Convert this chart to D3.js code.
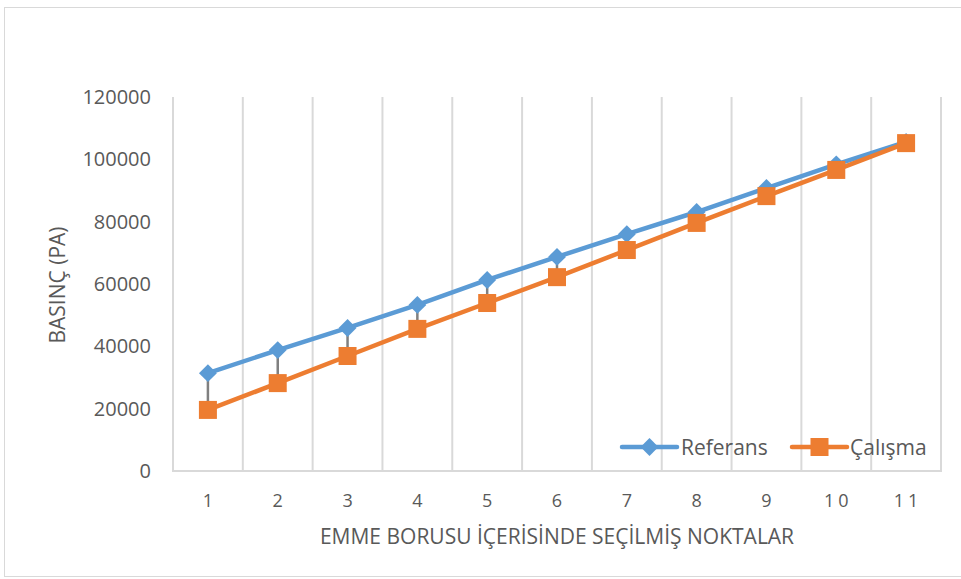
<!DOCTYPE html>
<html>
<head>
<meta charset="utf-8">
<script src="https://cdn.jsdelivr.net/npm/d3@7"></script>
<style>
  html, body { margin: 0; padding: 0; background: #fff; }
  svg { display: block; }
  text { font-family: "Open Sans", "Noto Sans", sans-serif; fill: #595959; }
</style>
</head>
<body>
<svg id="chart" width="961" height="579"></svg>
<script>
// Measurement points along the suction pipe
const categories = ["1", "2", "3", "4", "5", "6", "7", "8", "9", "10", "11"];
// Pressure (Pa) at each point
const referans = [31400, 38800, 45900, 53300, 61300, 68700, 76000, 83100, 90800, 98400, 105600];
const calisma  = [19600, 28200, 36900, 45600, 53900, 62200, 70900, 79600, 88200, 96600, 105200];
const yTicks = [0, 20000, 40000, 60000, 80000, 100000, 120000];
const seriesNames = ["Referans", "Çalışma"];
const xTitle = "EMME BORUSU İÇERİSİNDE SEÇİLMİŞ NOKTALAR";
const yTitle = "BASINÇ (PA)";

const blue = "#5b9bd5", orange = "#ed7d31", grid = "#d9d9d9";

const svg = d3.select("#chart");
const plot = { left: 173, right: 941, top: 97, bottom: 471 };

// Outer chart frame
svg.append("rect")
  .attr("x", 4.5).attr("y", 7.5).attr("width", 960).attr("height", 569)
  .attr("fill", "#fff").attr("stroke", grid).attr("stroke-width", 1);

const x = d3.scaleBand().domain(categories).range([plot.left, plot.right]).padding(0);
const y = d3.scaleLinear().domain([0, 120000]).range([plot.bottom, plot.top]);

// Vertical gridlines at category boundaries
const bounds = categories.map(c => x(c)).concat([plot.right]);
svg.append("g").selectAll("line").data(bounds).join("line")
  .attr("x1", d => d).attr("x2", d => d)
  .attr("y1", plot.top).attr("y2", plot.bottom)
  .attr("stroke", grid).attr("stroke-width", 2);

// X axis line
svg.append("line")
  .attr("x1", plot.left - 1).attr("x2", plot.right + 1)
  .attr("y1", plot.bottom).attr("y2", plot.bottom)
  .attr("stroke", grid).attr("stroke-width", 2);

// X tick labels
svg.append("g").selectAll("text").data(categories).join("text")
  .attr("x", d => x(d) + x.bandwidth() / 2 + (d.length > 1 ? 2 : 0))
  .attr("y", 507)
  .attr("text-anchor", "middle")
  .attr("font-size", 18)
  .attr("letter-spacing", d => d.length > 1 ? "4px" : "0px")
  .text(d => d);

// Y tick labels
svg.append("g").selectAll("text").data(yTicks).join("text")
  .attr("x", 151)
  .attr("y", d => y(d) + 7)
  .attr("text-anchor", "end")
  .attr("font-size", 20)
  .text(d => d);

// Axis titles
svg.append("text")
  .attr("x", 557).attr("y", 544)
  .attr("text-anchor", "middle")
  .attr("font-size", 21)
  .text(xTitle);

svg.append("text")
  .attr("transform", "translate(65,285) rotate(-90)")
  .attr("text-anchor", "middle")
  .attr("font-size", 21)
  .text(yTitle);

const cx = c => x(c) + x.bandwidth() / 2;

// Drop lines between the two series
svg.append("g").selectAll("line").data(categories).join("line")
  .attr("x1", cx).attr("x2", cx)
  .attr("y1", (d, i) => y(referans[i]))
  .attr("y2", (d, i) => y(calisma[i]))
  .attr("stroke", "#808080").attr("stroke-width", 2.5);

const line = d3.line().x((d, i) => cx(categories[i])).y(d => y(d));

function drawSeries(values, color, marker) {
  svg.append("path").datum(values)
    .attr("d", line)
    .attr("fill", "none").attr("stroke", color)
    .attr("stroke-width", 4.5).attr("stroke-linejoin", "round");
  const g = svg.append("g");
  values.forEach((v, i) => marker(g, cx(categories[i]), y(v), color));
}

const diamond = (g, px, py, color) => g.append("path")
  .attr("d", d3.symbol(d3.symbolSquare, 160)())
  .attr("transform", `translate(${px},${py}) rotate(45)`)
  .attr("fill", color);
const square = (g, px, py, color) => g.append("rect")
  .attr("x", px - 9).attr("y", py - 9).attr("width", 18).attr("height", 18)
  .attr("fill", color);

drawSeries(referans, blue, diamond);
drawSeries(calisma, orange, square);

// Legend
const legend = [
  { name: seriesNames[0], color: blue, marker: diamond, x0: 622, tx: 681 },
  { name: seriesNames[1], color: orange, marker: square, x0: 792, tx: 850 }
];
legend.forEach(l => {
  svg.append("line").attr("x1", l.x0).attr("x2", l.x0 + 55)
    .attr("y1", 447).attr("y2", 447)
    .attr("stroke", l.color).attr("stroke-width", 4.5).attr("stroke-linecap", "round");
  l.marker(svg, l.x0 + 27.5, 447, l.color);
  svg.append("text").attr("x", l.tx).attr("y", 455)
    .attr("font-size", 21).text(l.name);
});
</script>
</body>
</html>
